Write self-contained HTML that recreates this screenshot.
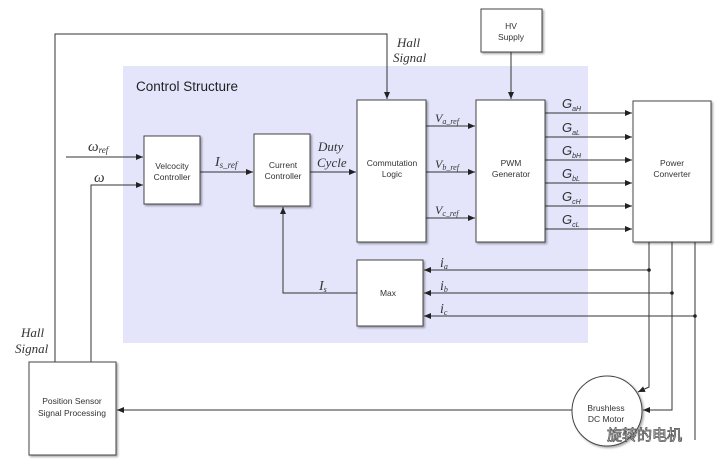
<!DOCTYPE html>
<html><head><meta charset="utf-8"><style>
html,body{margin:0;padding:0;background:#fff}
svg{display:block}
.b{font-family:"Liberation Sans",sans-serif;font-size:8.5px;fill:#333}
.i{font-family:"Liberation Serif",serif;font-style:italic;fill:#333}
</style></head><body>
<svg width="720" height="465" viewBox="0 0 720 465" xmlns="http://www.w3.org/2000/svg">
<defs>
<marker id="a" markerWidth="8" markerHeight="8" refX="7" refY="4" orient="auto" markerUnits="userSpaceOnUse"><path d="M0,1 L7,4 L0,7z" fill="#222"/></marker>
<filter id="s" x="-10%" y="-10%" width="130%" height="130%"><feDropShadow dx="1.5" dy="1.5" stdDeviation="1" flood-color="#000" flood-opacity="0.35"/></filter>
</defs>
<rect x="123" y="66" width="465" height="277" fill="#e4e4fb"/>
<text x="136" y="91" font-family="Liberation Sans,sans-serif" font-size="13.5" fill="#222">Control Structure</text>
<g stroke="#333" stroke-width="1" fill="none">
<path d="M55,362 V34 H387 V99" marker-end="url(#a)"/>
<path d="M66,157 H143" marker-end="url(#a)"/>
<path d="M91,362 V185 H143" marker-end="url(#a)"/>
<path d="M200,172 H253" marker-end="url(#a)"/>
<path d="M310,172 H356" marker-end="url(#a)"/>
<path d="M426,126 H475" marker-end="url(#a)"/>
<path d="M426,172 H475" marker-end="url(#a)"/>
<path d="M426,218 H475" marker-end="url(#a)"/>
<path d="M511,52 V99" marker-end="url(#a)"/>
<path d="M545,113 H632" marker-end="url(#a)"/>
<path d="M545,137 H632" marker-end="url(#a)"/>
<path d="M545,160 H632" marker-end="url(#a)"/>
<path d="M545,183 H632" marker-end="url(#a)"/>
<path d="M545,206 H632" marker-end="url(#a)"/>
<path d="M545,229 H632" marker-end="url(#a)"/>
<path d="M649,270 H424" marker-end="url(#a)"/>
<path d="M672,293 H424" marker-end="url(#a)"/>
<path d="M695,316 H424" marker-end="url(#a)"/>
<path d="M357,293 H283 V207" marker-end="url(#a)"/>
<path d="M649,242 V387 L638,392" marker-end="url(#a)"/>
<path d="M672,242 V410 H643" marker-end="url(#a)"/>
<path d="M695,242 V440"/>
<path d="M572,410 H117" marker-end="url(#a)"/>
</g>
<g fill="#222"><circle cx="649" cy="270" r="1.8"/><circle cx="672" cy="293" r="1.8"/><circle cx="695" cy="316" r="1.8"/></g>
<g fill="#fff" stroke="#444" stroke-width="1" filter="url(#s)">
<rect x="144" y="136" width="56" height="68"/>
<rect x="254" y="134" width="56" height="72"/>
<rect x="357" y="100" width="69" height="142"/>
<rect x="476" y="100" width="69" height="142"/>
<rect x="481" y="9" width="61" height="43"/>
<rect x="633" y="101" width="78" height="141"/>
<rect x="357" y="260" width="66" height="66"/>
<rect x="29" y="362" width="87" height="93"/>
<circle cx="607" cy="411" r="35"/>
</g>
<g class="b" text-anchor="middle">
<text x="172" y="169">Velcocity</text><text x="172" y="180">Controller</text>
<text x="283" y="168">Current</text><text x="283" y="179">Controller</text>
<text x="392" y="166">Commutation</text><text x="392" y="177">Logic</text>
<text x="511" y="166">PWM</text><text x="511" y="177">Generator</text>
<text x="511" y="29">HV</text><text x="511" y="40">Supply</text>
<text x="672" y="166">Power</text><text x="672" y="177">Converter</text>
<text x="388" y="296">Max</text>
<text x="72" y="404">Position Sensor</text><text x="72" y="416">Signal Processing</text>
<text x="606" y="411">Brushless</text><text x="606" y="422">DC Motor</text>
</g>
<g class="i">
<text x="88" y="151" font-size="15">ω<tspan font-size="9" dy="2">ref</tspan></text>
<text x="94" y="182" font-size="15">ω</text>
<text x="215" y="166" font-size="14">I<tspan font-size="9" dy="2">s_ref</tspan></text>
<text x="318" y="151" font-size="13">Duty</text><text x="317" y="167" font-size="13">Cycle</text>
<text x="397" y="47" font-size="13">Hall</text><text x="393" y="62" font-size="13">Signal</text>
<text x="21" y="337" font-size="13">Hall</text><text x="15" y="353" font-size="13">Signal</text>
<text x="435" y="122" font-size="12">V<tspan font-size="8" dy="2">a_ref</tspan></text>
<text x="435" y="168" font-size="12">V<tspan font-size="8" dy="2">b_ref</tspan></text>
<text x="435" y="214" font-size="12">V<tspan font-size="8" dy="2">c_ref</tspan></text>
<text x="440" y="267" font-size="14">i<tspan font-size="8" dy="2">a</tspan></text>
<text x="440" y="290" font-size="14">i<tspan font-size="8" dy="2">b</tspan></text>
<text x="440" y="313" font-size="14">i<tspan font-size="8" dy="2">c</tspan></text>
<text x="319" y="290" font-size="14">I<tspan font-size="8" dy="2">s</tspan></text>
</g>
<g font-family="Liberation Sans,sans-serif" font-style="italic" fill="#333">
<text x="562" y="108" font-size="13">G<tspan font-size="7" dy="3">aH</tspan></text>
<text x="562" y="132" font-size="13">G<tspan font-size="7" dy="3">aL</tspan></text>
<text x="562" y="155" font-size="13">G<tspan font-size="7" dy="3">bH</tspan></text>
<text x="562" y="178" font-size="13">G<tspan font-size="7" dy="3">bL</tspan></text>
<text x="562" y="201" font-size="13">G<tspan font-size="7" dy="3">cH</tspan></text>
<text x="562" y="224" font-size="13">G<tspan font-size="7" dy="3">cL</tspan></text>
</g>
<text x="607" y="440" font-family="Liberation Sans,'Noto Sans CJK SC',sans-serif" font-size="15" fill="#fff" stroke="#555" stroke-width="0.8">旋转的电机</text>
</svg>
</body></html>
